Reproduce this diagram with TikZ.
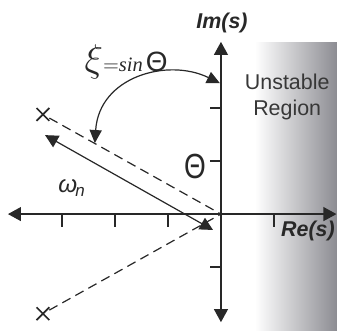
\documentclass[tikz,border=0pt]{standalone}
\usepackage{fontspec}
\setsansfont{Liberation Sans}
\newfontfamily\timesfont{Liberation Serif}
\usetikzlibrary{arrows.meta, positioning, shapes.misc}
\definecolor{shadegray}{RGB}{140, 140, 146}
\definecolor{textgray}{RGB}{55, 55, 55}
\definecolor{linegray}{RGB}{40, 40, 40}
\tikzset{
  axisline/.style  = {{Triangle[length=7pt, width=7.5pt]}-{Triangle[length=7pt, width=7.5pt]}, line width=0.65pt, linegray},
  tickmark/.style  = {line width=0.65pt, linegray},
  polelink/.style  = {dash pattern=on 5pt off 3pt, line width=0.65pt, linegray},
  polemark/.style  = {cross out, draw=linegray, line width=0.9pt, minimum size=6pt, inner sep=0pt},
  wnarrow/.style   = {{Triangle[length=7pt, width=7pt]}-{Triangle[length=7pt, width=7pt]}, line width=0.65pt, linegray},
  zetaarrow/.style = {{Triangle[length=7pt, width=6.5pt]}-{Triangle[length=7pt, width=6.5pt]}, line width=0.65pt, linegray},
  axlabel/.style   = {font=\fontsize{11.5}{13}\sffamily\bfseries\itshape, linegray},
  regionlbl/.style = {font=\fontsize{11.5}{13.5}\sffamily, textgray, align=center},
}

\begin{document}
\begin{tikzpicture}
  \useasboundingbox (-4.17,-2.19) rectangle (2.19,4.04);

  % unstable half plane
  \shade[left color=white, right color=shadegray] (0.64,-2.19) rectangle (2.19,3.23);

  \coordinate (o) at (0,0);
  \coordinate (rel) at (-4.02,0);
  \coordinate (rer) at (2.18,0);
  \coordinate (imb) at (0,-2.04);
  \coordinate (imt) at (0,3.25);

  \draw[axisline] (rel) -- (rer);
  \draw[axisline] (imb) -- (imt);

  \foreach \x in {-3,-2,-1,1}
    \draw[tickmark] (\x,0) -- (\x,-0.24);
  \foreach \y in {-1,1,2}
    \draw[tickmark] (0,\y) -- (-0.2,\y);

  \node[axlabel] (imlbl) at (0.02,3.60) {Im(s)};
  \node[axlabel, anchor=east, inner xsep=1pt] (relbl) at (2.19,-0.31) {Re(s)};

  \node[regionlbl] (unst) at (1.25,2.21) {Unstable\\Region};

  % poles and damping lines
  \node[polemark] (pup) at (-3.36,1.88) {};
  \node[polemark] (pdn) at (-3.36,-1.88) {};
  \draw[polelink] (pup) -- (o);
  \draw[polelink] (pdn) -- (o);

  \coordinate (wtop) at (-3.32,1.49);
  \coordinate (wbot) at (-0.15,-0.30);
  \draw[wnarrow] (wtop) -- (wbot);
  \node[font=\fontsize{13}{13}\sffamily\itshape, linegray] (wn) at (-2.81,0.49) {ω\textsubscript{\kern-1pt n}};

  \node[font=\fontsize{15}{15}\sffamily, linegray, yscale=1.25] (thlbl) at (-0.49,0.89) {Θ};

  % zeta = sin theta
  \coordinate (zlow) at (-2.38,1.34);
  \coordinate (zhigh) at (-0.02,2.47);
  \draw[zetaarrow] (zlow) .. controls (-2.3,2.6) and (-1.0,2.95) .. (zhigh);
  \node[linegray] (zlbl) at (-1.79,2.88)
    {{\fontsize{20}{20}\selectfont$\xi$}{\fontsize{11}{11}\selectfont$=$\timesfont\itshape sin}\,{\fontsize{15}{15}\sffamily Θ}};
\end{tikzpicture}
\end{document}
